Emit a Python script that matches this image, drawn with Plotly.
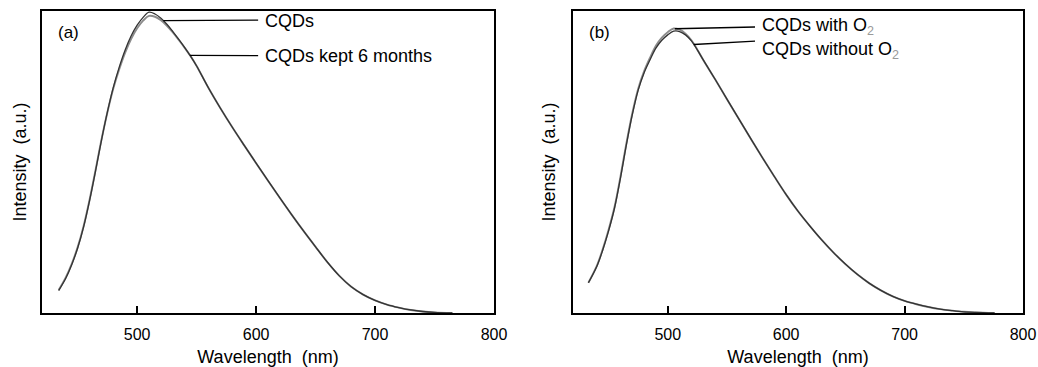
import numpy as np
import plotly.graph_objects as go
from plotly.subplots import make_subplots

# ---------------- data ----------------
wl_a = [434, 440, 445, 450, 455, 460, 465, 470, 475, 480, 485, 490, 495, 500, 505,
        510, 515, 520, 525, 530, 535, 540, 545, 550, 560, 570, 580, 590, 600, 610,
        620, 630, 640, 650, 660, 670, 680, 690, 700, 710, 720, 730, 740, 750, 765]
cqds_a = [0.074, 0.115, 0.16, 0.215, 0.285, 0.372, 0.47, 0.572, 0.666, 0.748, 0.815, 0.872,
          0.918, 0.953, 0.979, 0.996, 0.99, 0.976, 0.956, 0.932, 0.906, 0.879, 0.85,
          0.818, 0.745, 0.678, 0.615, 0.555, 0.496, 0.438, 0.381, 0.325, 0.271, 0.219,
          0.168, 0.123, 0.087, 0.061, 0.042, 0.028, 0.018, 0.010, 0.005, 0.002, 0.0]
kept_a = [0.076, 0.118, 0.163, 0.218, 0.288, 0.375, 0.473, 0.574, 0.665, 0.744, 0.808,
          0.863, 0.908, 0.943, 0.968, 0.984, 0.981, 0.969, 0.951, 0.929, 0.904, 0.878,
          0.85, 0.818, 0.745, 0.678, 0.615, 0.555, 0.496, 0.438, 0.381, 0.325, 0.271,
          0.219, 0.168, 0.123, 0.087, 0.061, 0.042, 0.028, 0.018, 0.010, 0.005, 0.002, 0.0]

wl_b = [433, 440, 445, 450, 455, 460, 465, 470, 475, 480, 485, 490, 495, 500, 505,
        510, 515, 520, 525, 530, 540, 550, 560, 570, 580, 590, 600, 610, 620, 630,
        640, 650, 660, 670, 680, 690, 700, 710, 720, 730, 740, 750, 760, 776]
with_o2 = [0.10, 0.155, 0.21, 0.275, 0.35, 0.45, 0.56, 0.66, 0.742, 0.80, 0.845, 0.885,
           0.912, 0.93, 0.942, 0.938, 0.925, 0.903, 0.872, 0.838, 0.774, 0.708, 0.643,
           0.578, 0.514, 0.452, 0.392, 0.337, 0.288, 0.242, 0.200, 0.162, 0.128, 0.099,
           0.075, 0.055, 0.04, 0.029, 0.02, 0.013, 0.008, 0.004, 0.002, 0.0]
without_o2 = [0.10, 0.153, 0.207, 0.271, 0.346, 0.445, 0.555, 0.655, 0.737, 0.795, 0.838,
              0.877, 0.903, 0.921, 0.933, 0.932, 0.921, 0.901, 0.871, 0.838, 0.774, 0.708,
              0.643, 0.578, 0.514, 0.452, 0.392, 0.337, 0.288, 0.242, 0.200, 0.162, 0.128,
              0.099, 0.075, 0.055, 0.04, 0.029, 0.02, 0.013, 0.008, 0.004, 0.002, 0.0]

x_ticks = [500, 600, 700, 800]
x_range = [420, 800]
y_range = [0, 1]

names_a = ["CQDs", "CQDs kept 6 months"]
names_b = ["CQDs with O<sub><span style='color:#9a9a9a'>2</span></sub>",
           "CQDs without O<sub><span style='color:#9a9a9a'>2</span></sub>"]
panel_labels = ["(a)", "(b)"]

# ---------------- figure ----------------
FONT = "Liberation Sans, Arial, sans-serif"
DARK = "#333333"
GRAY = "#8c8c8c"

fig = make_subplots(rows=1, cols=2, horizontal_spacing=0.08)

fig.add_trace(go.Scatter(x=wl_a, y=kept_a, mode="lines", line=dict(color=GRAY, width=1.9),
                         line_shape="spline", name=names_a[1]), row=1, col=1)
fig.add_trace(go.Scatter(x=wl_a, y=cqds_a, mode="lines", line=dict(color=DARK, width=1.3),
                         line_shape="spline", name=names_a[0]), row=1, col=1)
fig.add_trace(go.Scatter(x=wl_b, y=with_o2, mode="lines", line=dict(color=GRAY, width=1.9),
                         line_shape="spline", name=names_b[0]), row=1, col=2)
fig.add_trace(go.Scatter(x=wl_b, y=without_o2, mode="lines", line=dict(color=DARK, width=1.3),
                         line_shape="spline", name=names_b[1]), row=1, col=2)

axis_common = dict(range=x_range, tickvals=x_ticks, ticks="inside", ticklen=7, tickwidth=2,
                   tickcolor="black", showline=True, linecolor="black", linewidth=2,
                   mirror=True, showgrid=False, zeroline=False, ticklabelstandoff=6,
                   automargin=False,
                   tickfont=dict(family=FONT, size=16, color="black"),
                   title=dict(text="Wavelength\u00a0\u00a0(nm)",
                              font=dict(family=FONT, size=18, color="black"), standoff=14))
yaxis_common = dict(range=y_range, showticklabels=False, ticks="", showline=True,
                    linecolor="black", linewidth=2, mirror=True, showgrid=False,
                    zeroline=False, automargin=False,
                    title=dict(text="Intensity\u00a0\u00a0(a.u.)",
                               font=dict(family=FONT, size=18, color="black"), standoff=9))

fig.update_xaxes(**axis_common)
fig.update_yaxes(**yaxis_common)
fig.update_xaxes(domain=[0.0, 452 / 981], row=1, col=1)
fig.update_xaxes(domain=[531 / 981, 1.0], row=1, col=2)
fig.update_yaxes(title_standoff=11, row=1, col=2)

# leader lines + labels
def leader(xref, yref, wl, vals, at, y_level, x_end, text, text_y):
    y0 = float(np.interp(at, wl, vals))
    fig.add_shape(type="line", xref=xref, yref=yref, x0=at, y0=y0, x1=x_end, y1=y_level,
                  line=dict(color="black", width=1.3))
    fig.add_annotation(xref=xref, yref=yref, x=x_end + 4, y=text_y, text=text,
                       showarrow=False, xanchor="left", yanchor="middle",
                       font=dict(family=FONT, size=18, color="black"))

leader("x", "y", wl_a, cqds_a, 522, 0.970, 601.7, names_a[0], 0.967)
leader("x", "y", wl_a, kept_a, 544.5, 0.852, 601.7, names_a[1], 0.852)
leader("x2", "y2", wl_b, with_o2, 506, 0.947, 573.7, names_b[0], 0.948)
leader("x2", "y2", wl_b, without_o2, 522, 0.90, 573.7, names_b[1], 0.868)

for i, lab in enumerate(panel_labels):
    fig.add_annotation(xref=f"x{'' if i == 0 else 2} domain", yref=f"y{'' if i == 0 else 2} domain",
                       x=0.03, y=0.93, text=lab, showarrow=False, xanchor="left",
                       yanchor="middle", font=dict(family=FONT, size=17, color="black"))

fig.update_layout(width=1038, height=367, margin=dict(l=42, r=15, t=11, b=54),
                  paper_bgcolor="white", plot_bgcolor="white", showlegend=False)

fig.write_html("out.html",
               config={"displayModeBar": False, "responsive": False},
               post_script="document.body.style.margin='0';")
